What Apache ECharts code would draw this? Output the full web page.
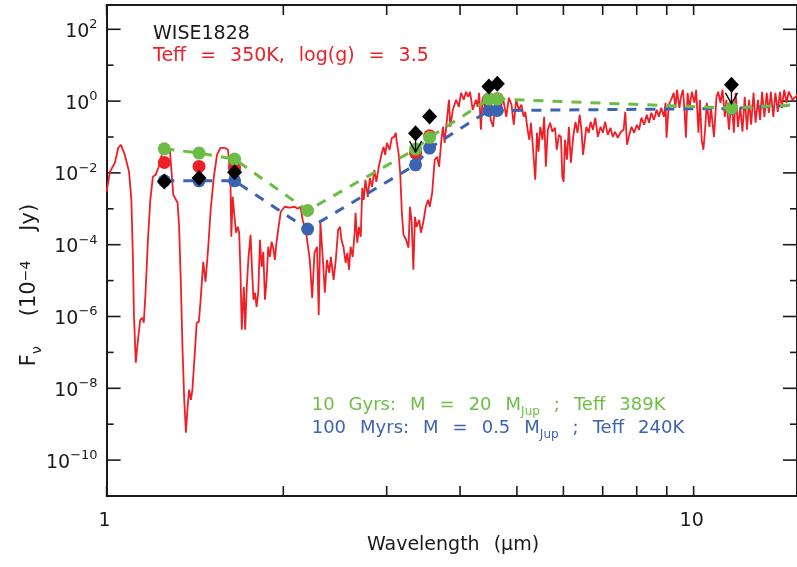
<!DOCTYPE html>
<html>
<head>
<meta charset="utf-8">
<title>WISE1828 spectral energy distribution</title>
<script src="https://cdn.jsdelivr.net/npm/echarts@6/dist/echarts.min.js"></script>
<style>
  html, body { margin: 0; padding: 0; background: #ffffff; }
  #chart { width: 797px; height: 567px; }
</style>
</head>
<body>
<div id="chart"></div>
<script>
// Model spectrum, Teff = 350 K, log(g) = 3.5 (wavelength in micron, flux in 1e-4 Jy)
const specWave = [
  1.000, 1.013, 1.033, 1.047, 1.058, 1.074, 1.092, 1.102, 1.109, 1.113,
  1.121, 1.131, 1.141, 1.150, 1.157, 1.165, 1.176, 1.187, 1.199, 1.212,
  1.227, 1.244, 1.257, 1.270, 1.282, 1.292, 1.299, 1.309, 1.321, 1.329,
  1.338, 1.347, 1.356, 1.365, 1.373, 1.382, 1.392, 1.400, 1.412, 1.424,
  1.436, 1.446, 1.461, 1.474, 1.490, 1.504, 1.523, 1.542, 1.563, 1.589,
  1.610, 1.625, 1.631, 1.640, 1.652, 1.661, 1.673, 1.682, 1.691, 1.699,
  1.713, 1.722, 1.733, 1.745, 1.759, 1.768, 1.779, 1.790, 1.801, 1.813,
  1.825, 1.837, 1.849, 1.861, 1.873, 1.885, 1.898, 1.910, 1.922, 1.935,
  1.947, 1.960, 1.980, 2.011, 2.050, 2.091, 2.118, 2.139, 2.159, 2.184,
  2.219, 2.240, 2.260, 2.283, 2.298, 2.313, 2.334, 2.354, 2.373, 2.395,
  2.410, 2.436, 2.457, 2.480, 2.499, 2.512, 2.532, 2.554, 2.571, 2.588,
  2.604, 2.625, 2.646, 2.655, 2.673, 2.691, 2.710, 2.726, 2.742, 2.760,
  2.786, 2.808, 2.833, 2.858, 2.881, 2.908, 2.944, 2.964, 2.982, 3.003,
  3.034, 3.061, 3.089, 3.109, 3.121, 3.143, 3.163, 3.184, 3.204, 3.237,
  3.268, 3.287, 3.309, 3.331, 3.352, 3.373, 3.409, 3.430, 3.462, 3.497,
  3.529, 3.552, 3.586, 3.622, 3.656, 3.685, 3.718, 3.741, 3.766, 3.789,
  3.830, 3.850, 3.889, 3.940, 3.981, 4.016, 4.059, 4.095, 4.132, 4.160,
  4.204, 4.258, 4.286, 4.312, 4.341, 4.370, 4.414, 4.456, 4.513, 4.554,
  4.601, 4.660, 4.692, 4.722, 4.751, 4.796, 4.845, 4.895, 4.939, 4.986,
  5.036, 5.089, 5.136, 5.168, 5.214, 5.249, 5.284, 5.317, 5.373, 5.410,
  5.442, 5.479, 5.527, 5.564, 5.601, 5.644, 5.695, 5.746, 5.807, 5.845,
  5.897, 5.943, 5.974, 6.006, 6.037, 6.084, 6.131, 6.178, 6.235, 6.292,
  6.341, 6.397, 6.440, 6.480, 6.566, 6.625, 6.677, 6.736, 6.800, 6.869,
  6.942, 7.004, 7.069, 7.141, 7.217, 7.281, 7.350, 7.424, 7.522, 7.598,
  7.648, 7.700, 7.769, 7.838, 7.921, 8.002, 8.075, 8.148, 8.234, 8.320,
  8.395, 8.471, 8.560, 8.650, 8.728, 8.806, 8.899, 8.957, 8.992, 9.072,
  9.154, 9.250, 9.311, 9.369, 9.457, 9.516, 9.590, 9.652, 9.701, 9.765,
  9.842, 9.930, 10.03, 10.10, 10.19, 10.25, 10.32, 10.39, 10.46, 10.53,
  10.64, 10.70, 10.83, 10.94, 11.01, 11.11, 11.20, 11.30, 11.37, 11.49,
  11.60, 11.71, 11.79, 11.90, 12.01, 12.11, 12.22, 12.33, 12.43, 12.53,
  12.65, 12.75, 12.87, 12.98, 13.08, 13.20, 13.32, 13.43, 13.54, 13.67,
  13.78, 13.91, 14.03, 14.13, 14.27, 14.40, 14.52, 14.74, 15.03
];
const specFlux = [
  2.98e-3, 1.07e-2, 1.91e-2, 5.00e-2, 6.07e-2, 3.19e-2, 1.07e-2, 1.78e-3, 3.79e-5, 1.27e-6,
  5.13e-8, 2.25e-7, 8.09e-7, 9.20e-7, 6.68e-7, 4.57e-6, 1.37e-4, 1.78e-3, 7.79e-3, 8.85e-3,
  1.48e-2, 3.63e-2, 4.40e-2, 5.00e-2, 4.13e-2, 7.79e-3, 2.45e-3, 2.16e-3, 1.47e-3, 3.15e-4,
  8.69e-6, 1.18e-7, 4.79e-9, 5.80e-10, 2.50e-9, 9.10e-9, 4.79e-9, 9.10e-9, 7.55e-8, 6.68e-7,
  7.10e-7, 2.92e-6, 3.34e-5, 9.27e-6, 8.75e-5, 9.38e-4, 7.79e-3, 3.19e-2, 5.00e-2, 5.00e-2,
  4.40e-2, 7.79e-3, 1.66e-4, 2.16e-3, 2.16e-3, 2.15e-4, 3.15e-4, 2.15e-4, 1.65e-5, 4.26e-7,
  6.72e-6, 4.26e-7, 6.72e-6, 4.60e-5, 1.89e-4, 2.42e-5, 2.92e-6, 4.57e-6, 1.86e-6, 4.88e-6,
  1.37e-4, 2.42e-5, 6.34e-5, 2.92e-6, 1.05e-5, 8.75e-5, 4.60e-5, 1.20e-4, 8.20e-5, 3.79e-5,
  1.13e-4, 2.60e-4, 8.24e-4, 1.14e-3, 1.07e-3, 1.14e-3, 1.00e-3, 1.14e-3, 4.64e-4, 2.60e-4,
  3.79e-5, 3.30e-6, 5.94e-5, 8.75e-5, 1.11e-6, 4.07e-4, 4.60e-5, 4.57e-6, 3.79e-5, 1.65e-5,
  4.60e-5, 1.05e-5, 3.79e-5, 2.60e-4, 3.15e-4, 1.37e-4, 8.75e-5, 3.13e-5, 5.94e-5, 2.00e-5,
  8.75e-5, 4.60e-5, 2.15e-4, 7.74e-4, 1.13e-4, 3.15e-4, 1.66e-4, 3.85e-3, 1.78e-3, 6.43e-3,
  2.16e-3, 7.31e-3, 4.10e-3, 1.22e-2, 5.65e-3, 1.48e-2, 3.63e-2, 5.33e-2, 3.19e-2, 6.89e-2,
  4.40e-2, 9.50e-2, 1.01e-1, 1.31e-1, 7.35e-2, 3.63e-2, 1.01e-2, 7.74e-4, 1.89e-4, 1.37e-4,
  8.20e-5, 1.14e-3, 4.35e-4, 2.00e-5, 5.98e-4, 3.15e-4, 4.94e-4, 2.15e-4, 4.07e-4, 1.14e-3,
  1.78e-3, 1.14e-3, 2.79e-3, 2.32e-2, 2.81e-2, 1.48e-2, 8.36e-2, 1.92e-1, 6.89e-2, 1.92e-1,
  1.09, 1.92e-1, 5.73e-1, 1.09, 6.94e-1, 1.70, 1.09, 1.82, 1.32, 1.82,
  5.73e-1, 1.09, 6.94e-1, 1.70, 1.59e-1, 1.32, 5.73e-1, 1.41, 3.01e-1, 1.92e-1,
  1.32, 6.94e-1, 4.72e-1, 1.24, 8.97e-1, 3.65e-1, 1.24, 7.89e-1, 2.19e-1, 1.09,
  5.73e-1, 7.89e-1, 3.65e-1, 5.03e-1, 1.59e-1, 8.36e-2, 2.49e-1, 6.89e-2, 6.43e-3, 1.31e-1,
  3.87e-2, 1.92e-1, 8.36e-2, 3.65e-1, 1.48e-2, 1.59e-1, 2.49e-1, 1.40e-1, 1.80e-1, 4.40e-2,
  1.15e-1, 1.01e-1, 7.79e-3, 5.65e-3, 8.36e-2, 2.32e-2, 1.92e-1, 1.91e-2, 1.01e-1, 2.65e-1,
  1.31e-1, 4.15e-1, 1.59e-1, 3.19e-2, 1.92e-1, 1.31e-1, 2.65e-1, 1.59e-1, 3.43e-1, 1.01e-1,
  1.92e-1, 1.31e-1, 2.65e-1, 1.15e-1, 1.80e-1, 1.01e-1, 1.40e-1, 9.50e-2, 1.40e-1, 1.59e-1,
  5.03e-1, 6.07e-2, 1.15e-1, 1.92e-1, 1.31e-1, 2.19e-1, 1.59e-1, 3.43e-1, 2.19e-1, 4.15e-1,
  2.49e-1, 4.72e-1, 3.01e-1, 5.73e-1, 3.65e-1, 6.51e-1, 3.65e-1, 8.97e-1, 9.50e-2, 7.89e-1,
  1.09, 1.70, 6.51e-1, 2.07, 6.51e-1, 1.32, 2.07, 5.03e-1, 9.50e-2, 1.70,
  6.51e-1, 1.82, 8.97e-1, 2.07, 1.31e-1, 1.09, 8.36e-2, 4.40e-2, 1.59e-1, 8.97e-1,
  1.92e-1, 6.94e-1, 1.01e-1, 1.32, 1.82, 8.97e-1, 2.07, 3.65e-1, 1.09, 1.59e-1,
  1.09, 1.31e-1, 1.70, 1.92e-1, 6.94e-1, 1.40e-1, 1.32, 1.59e-1, 1.09, 2.19e-1,
  1.70, 2.49e-1, 1.09, 3.01e-1, 1.82, 3.65e-1, 1.70, 4.72e-1, 1.82, 3.65e-1,
  1.70, 5.03e-1, 1.82, 6.51e-1, 2.07, 8.97e-1, 1.82, 1.09, 1.50
];

// Photometric bands: J, F140W, H, K, W1, [3.6], [4.5], W2, W3, W4
const bandWave = [1.254, 1.437, 1.652, 2.20, 3.36, 3.55, 4.48, 4.63, 11.6, 22.1];
// Evolutionary model fluxes
const oldModelFlux = [4.69e-2, 3.56e-2, 2.42e-2, 8.97e-4, 4.60e-2, 9.68e-2, 1.14, 1.14, 0.638, 1.10];   // 10 Gyr
const youngModelFlux = [6.03e-3, 6.03e-3, 6.03e-3, 2.72e-4, 1.68e-2, 4.90e-2, 0.547, 0.547, 0.620, 1.10]; // 100 Myr

// Synthetic photometry of the 350 K spectrum
const synthWave = [1.254, 1.437, 1.652, 3.36, 3.55, 4.48, 4.63];
const synthFlux = [1.95e-2, 1.51e-2, 1.36e-2, 3.56e-2, 1.08e-1, 1.16, 1.16];

// Observed photometry
const obsWave = [1.254, 1.437, 1.652, 3.36, 3.55, 4.48, 4.63, 11.6];
const obsFlux = [5.77e-3, 7.16e-3, 1.05e-2, 1.28e-1, 3.72e-1, 2.55, 3.03, 2.84];
// Points that are upper limits
const limitWave = [3.36, 11.6];
const limitFlux = [1.28e-1, 2.84];

// Axis ticks
const xTickValues = [1, 2, 3, 4, 5, 6, 7, 8, 9, 10];
const xTickLabels = ['1', '', '', '', '', '', '', '', '', '10'];
const yTickValues = [1e-10, 1e-9, 1e-8, 1e-7, 1e-6, 1e-5, 1e-4, 1e-3, 1e-2, 1e-1, 1, 1e1, 1e2];
const yTickLabels = ['\u221210', '', '\u22128', '', '\u22126', '', '\u22124', '', '\u22122', '', '0', '', '2'];

const X_MIN = 1, X_MAX = 15, Y_MIN = 1e-11, Y_MAX = 475;

const FONT = 'DejaVu Sans';
const INK = '#1a1a1a';
const RED = '#ee1f26';
const GREEN = '#6cbd45';
const BLUE = '#3b63b1';
const WORD_GAP = 14;   // the plot font sets words wide apart

const pairs = (xs, ys) => xs.map((x, i) => [x, ys[i]]);

// Rich-text run where each blank becomes a fixed-width gap token
function wide(text, key) {
  return text.split(' ').map(w => (w ? '{' + key + '|' + w + '}' : '')).join('{w| }');
}
function richSet(color, size) {
  return {
    t: { fontFamily: FONT, fontSize: size, fill: color, lineHeight: 22, verticalAlign: 'top' },
    w: { fontFamily: FONT, fontSize: size, fill: color, lineHeight: 22, verticalAlign: 'top', width: WORD_GAP },
    s: { fontFamily: FONT, fontSize: 12, fill: color, lineHeight: 12, verticalAlign: 'bottom', padding: [11, 0, 0, 0] }
  };
}

const chart = echarts.init(document.getElementById('chart'), null, { renderer: 'canvas' });

const frameAxis = (position, extra) => Object.assign({
  type: 'log', logBase: 10, position: position,
  axisLine: { show: true, onZero: false, lineStyle: { color: INK, width: 2 } },
  axisTick: { show: false }, minorTick: { show: false },
  axisLabel: { show: false }, splitLine: { show: false }, minorSplitLine: { show: false }
}, extra);

function renderXTicks(params, api) {
  const cs = params.coordSys;
  const x = api.coord([api.value(0), 1])[0];
  const bottom = cs.y + cs.height;
  const top = cs.y;
  const len = 10;
  const label = xTickLabels[params.dataIndex];
  const children = [
    { type: 'line', shape: { x1: x, y1: bottom, x2: x, y2: bottom - len }, style: { stroke: INK, lineWidth: 1.6 } },
    { type: 'line', shape: { x1: x, y1: top, x2: x, y2: top + len }, style: { stroke: INK, lineWidth: 1.6 } }
  ];
  if (label) {
    children.push({ type: 'text', x: x - 2, y: bottom + 25,
      style: { text: label, fill: INK, font: '19px "' + FONT + '"', align: 'center', verticalAlign: 'middle' } });
  }
  return { type: 'group', children: children };
}

function renderYTicks(params, api) {
  const cs = params.coordSys;
  const y = api.coord([1, api.value(1)])[1];
  const left = cs.x;
  const right = cs.x + cs.width;
  const label = yTickLabels[params.dataIndex];
  const len = label ? 14 : 7;
  const children = [
    { type: 'line', shape: { x1: left, y1: y, x2: left + len, y2: y }, style: { stroke: INK, lineWidth: 1.6 } },
    { type: 'line', shape: { x1: right, y1: y, x2: right - len, y2: y }, style: { stroke: INK, lineWidth: 1.6 } }
  ];
  if (label) {
    children.push({ type: 'text', x: left - 9, y: y,
      style: {
        text: '{b|10}{s|' + label + '}', align: 'right', verticalAlign: 'middle',
        rich: {
          b: { fontFamily: FONT, fontSize: 19, fill: INK, lineHeight: 22, padding: [5, 0, 0, 0] },
          s: { fontFamily: FONT, fontSize: 13, fill: INK, lineHeight: 14, verticalAlign: 'top' }
        }
      } });
  }
  return { type: 'group', children: children };
}

function renderLimits(params, api) {
  const p = api.coord([api.value(0), api.value(1)]);
  const tip = p[1] + 19;
  const st = { stroke: '#000', lineWidth: 1.3 };
  return { type: 'group', children: [
    { type: 'line', shape: { x1: p[0], y1: p[1], x2: p[0], y2: tip }, style: st },
    { type: 'polyline', shape: { points: [[p[0] - 6, tip - 11], [p[0], tip], [p[0] + 6, tip - 11]] }, style: Object.assign({ fill: null }, st) }
  ] };
}

// Rotated flux-axis title: F_nu (10^-4 Jy)
const yTitleRich = {
  t: { fontFamily: FONT, fontSize: 21, fill: INK, lineHeight: 25, verticalAlign: 'top' },
  g: { fontFamily: FONT, fontSize: 21, fill: INK, lineHeight: 25, verticalAlign: 'top', width: 30 },
  s: { fontFamily: FONT, fontSize: 14, fill: INK, lineHeight: 14, verticalAlign: 'bottom', padding: [13, 0, 0, 0] },
  u: { fontFamily: FONT, fontSize: 14, fill: INK, lineHeight: 14, verticalAlign: 'top' }
};

const option = {
  animation: false,
  backgroundColor: '#ffffff',
  grid: { left: 106.6, top: 5, width: 698, height: 491, containLabel: false },
  xAxis: [
    frameAxis('bottom', { min: X_MIN, max: X_MAX }),
    frameAxis('top', { min: X_MIN, max: X_MAX })
  ],
  yAxis: [
    frameAxis('left', { min: Y_MIN, max: Y_MAX }),
    frameAxis('right', { min: Y_MIN, max: Y_MAX })
  ],
  series: [
    { type: 'custom', name: 'x ticks', renderItem: renderXTicks, data: xTickValues.map(v => [v, 1]), silent: true, z: 1 },
    { type: 'custom', name: 'y ticks', renderItem: renderYTicks, data: yTickValues.map(v => [1, v]), silent: true, z: 1 },
    { type: 'line', name: 'Teff 350K spectrum', data: pairs(specWave, specFlux), showSymbol: false,
      lineStyle: { color: RED, width: 1.8 }, clip: true, z: 2 },
    { type: 'scatter', name: 'synthetic photometry', data: pairs(synthWave, synthFlux), symbol: 'circle', symbolSize: 13,
      itemStyle: { color: RED, opacity: 1 }, z: 3 },
    { type: 'line', name: '100 Myrs', data: pairs(bandWave, youngModelFlux), symbol: 'circle', symbolSize: 13, showAllSymbol: true,
      lineStyle: { color: BLUE, width: 3, type: [10, 9] }, itemStyle: { color: BLUE, opacity: 1 }, clip: true, z: 4 },
    { type: 'line', name: '10 Gyrs', data: pairs(bandWave, oldModelFlux), symbol: 'circle', symbolSize: 13, showAllSymbol: true,
      lineStyle: { color: GREEN, width: 3, type: [10, 9] }, itemStyle: { color: GREEN, opacity: 1 }, clip: true, z: 5 },
    { type: 'custom', name: 'upper limits', renderItem: renderLimits, data: pairs(limitWave, limitFlux), z: 6 },
    { type: 'scatter', name: 'WISE1828', data: pairs(obsWave, obsFlux), symbol: 'diamond', symbolSize: [15, 16],
      itemStyle: { color: '#000', opacity: 1 }, z: 7 }
  ],
  graphic: [
    { type: 'text', x: 153, y: 34, z: 10,
      style: { text: 'WISE1828', fill: INK, font: '19px "' + FONT + '"', verticalAlign: 'middle' } },
    { type: 'text', x: 153, y: 58, z: 10,
      style: { text: wide('Teff = 350K, log(g) = 3.5', 't'), verticalAlign: 'middle', rich: richSet(RED, 19) } },
    { type: 'text', x: 311.7, y: 407, z: 10,
      style: { text: wide('10 Gyrs: M = 20 M', 't') + '{s|Jup}{w| }' + wide('; Teff 389K', 't'),
        verticalAlign: 'middle', rich: richSet(GREEN, 18) } },
    { type: 'text', x: 311.7, y: 430, z: 10,
      style: { text: wide('100 Myrs: M = 0.5 M', 't') + '{s|Jup}{w| }' + wide('; Teff 240K', 't'),
        verticalAlign: 'middle', rich: richSet(BLUE, 18) } },
    { type: 'text', x: 453, y: 547, z: 10,
      style: { text: wide('Wavelength (\u03bcm)', 't'), align: 'center', verticalAlign: 'middle', rich: richSet(INK, 19) } },
    { type: 'text', x: 32, y: 285, rotation: Math.PI / 2, z: 10,
      style: { text: '{t|F}{s|\u03bd}{g| }{t|(10}{u|\u22124}{g| }{t|Jy)}', align: 'center', verticalAlign: 'middle',
        rich: yTitleRich } }
  ]
};

chart.setOption(option);
</script>
</body>
</html>
